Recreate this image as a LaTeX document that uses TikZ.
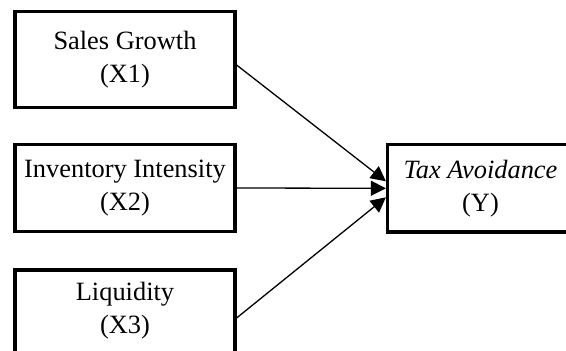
\documentclass[tikz,border=0pt]{standalone}
\usepackage{fontspec}
\setmainfont{Liberation Serif}
\usetikzlibrary{arrows.meta}
\begin{document}
\begin{tikzpicture}[x=1pt,y=-1pt,
  lbl/.style={align=center, inner sep=0pt, font=\fontsize{26.4}{33}\selectfont},
  box/.style={lbl, draw, line width=3.2pt, minimum width=220pt},
  conn/.style={line width=1.3pt, -{Triangle[length=15pt,width=15pt]}}]
\clip (0,0) rectangle (566,351);
\useasboundingbox (0,0) rectangle (566,351);
\node[box, minimum height=96pt] (x1) at (125,59.5) {Sales Growth\\(X1)};
\node[box, minimum height=87pt] (x2) at (125,188) {Inventory Intensity\\(X2)};
\node[box, minimum height=120pt] (x3) at (125,330) {};
\node[lbl] (x3t) at (125,311) {Liquidity\\(X3)};
\node[box, minimum width=186pt, minimum height=87.5pt] (y) at (480.5,188.3) {\textit{Tax Avoidance}\\(Y)};
\draw[conn] ([yshift=-5.5pt]x1.east) -- ([yshift=7pt]y.west);
\draw[conn] (x2.east) -- (y.west);
\draw[conn] ([yshift=12pt]x3.east) -- ([yshift=-9pt]y.west);
\end{tikzpicture}
\end{document}
